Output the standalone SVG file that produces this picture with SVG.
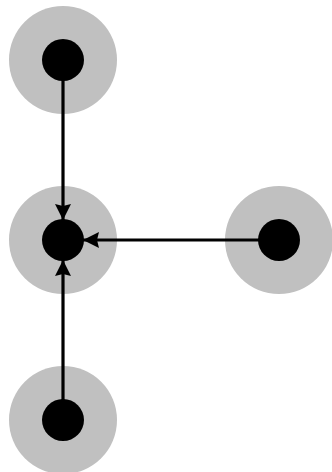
<svg xmlns="http://www.w3.org/2000/svg" width="332" height="472" viewBox="0 0 332 472">
  <style>
    .halo { fill: #c0c0c0; }
    .dot { fill: #000000; }
    .edge { stroke: #000000; stroke-width: 3.2; fill: none; }
  </style>
  <defs>
    <marker id="arrow" viewBox="0 0 16 16" refX="16" refY="8" markerWidth="16" markerHeight="16" markerUnits="userSpaceOnUse" orient="auto">
      <path d="M0,0 L16,8 L0,16 L2,8 Z" fill="#000000"/>
    </marker>
  </defs>
  <rect width="332" height="472" fill="#ffffff"/>
  <g id="node-top">
    <circle class="halo" cx="63" cy="60" r="54"/>
    <circle class="dot" cx="63" cy="60" r="21"/>
  </g>
  <g id="node-center">
    <circle class="halo" cx="63" cy="240" r="54"/>
    <circle class="dot" cx="63" cy="240" r="21"/>
  </g>
  <g id="node-right">
    <circle class="halo" cx="279" cy="240" r="54"/>
    <circle class="dot" cx="279" cy="240" r="21"/>
  </g>
  <g id="node-bottom">
    <circle class="halo" cx="63" cy="420" r="54"/>
    <circle class="dot" cx="63" cy="420" r="21"/>
  </g>
  <g id="connectors">
    <line class="edge" x1="63" y1="80" x2="63" y2="220" marker-end="url(#arrow)"/>
    <line class="edge" x1="259" y1="240" x2="83" y2="240" marker-end="url(#arrow)"/>
    <line class="edge" x1="63" y1="400" x2="63" y2="260" marker-end="url(#arrow)"/>
  </g>
</svg>
